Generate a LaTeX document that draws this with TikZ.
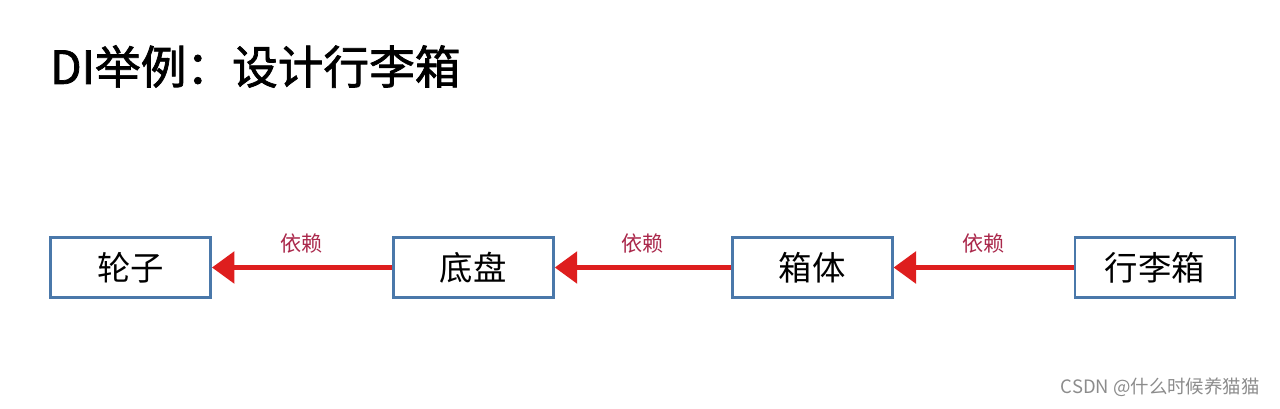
\documentclass[tikz,border=0pt]{standalone}
\usepackage{fontspec}
\newfontfamily\cjk{Noto Sans CJK SC}
\newfontfamily\cjkheavy{Noto Sans CJK SC}[FakeBold=1.6]
\usetikzlibrary{positioning,arrows.meta}
\definecolor{boxblue}{RGB}{74,120,170}
\definecolor{deppink}{RGB}{170,40,75}
\definecolor{depred}{RGB}{222,30,30}
\tikzset{
    part/.style={draw=boxblue, line width=1.6pt, minimum width=3.2cm, minimum height=1.2cm, inner sep=0pt, font=\cjk\fontsize{19}{19}\selectfont},
    dep/.style={draw=depred, line width=3.2pt, -{Triangle[length=0.45cm, width=0.62cm]}},
    deplabel/.style={font=\cjk\fontsize{12}{12}\selectfont, text=deppink}
}
\begin{document}
\begin{tikzpicture}
    \useasboundingbox (0,0) rectangle (25.6,-8.18);
    % Title
    \node[anchor=west, font=\cjkheavy\fontsize{26}{26}\selectfont] (title) at (0.88,-1.33) {DI举例：设计行李箱};

    % Parts, from left to right
    \node[part] (wheel) at (2.61,-5.35) {轮子};
    \node[part, right=3.6cm of wheel] (chassis) {底盘};
    \node[part, right=3.52cm of chassis] (body) {箱体};
    \node[part, right=3.6cm of body] (case) {行李箱};

    % Dependencies
    \draw[dep] (chassis) -- (wheel) node[deplabel, midway, above=0.12cm] (d1) {依赖};
    \draw[dep] (body) -- (chassis) node[deplabel, midway, above=0.12cm] (d2) {依赖};
    \draw[dep] (case) -- (body) node[deplabel, midway, above=0.12cm] (d3) {依赖};

    % Watermark
    \node[anchor=east, text=black!45, font=\cjk\fontsize{10.5}{10.5}\selectfont] (mark) at (25.32,-7.74) {CSDN @什么时候养猫猫};
\end{tikzpicture}
\end{document}
